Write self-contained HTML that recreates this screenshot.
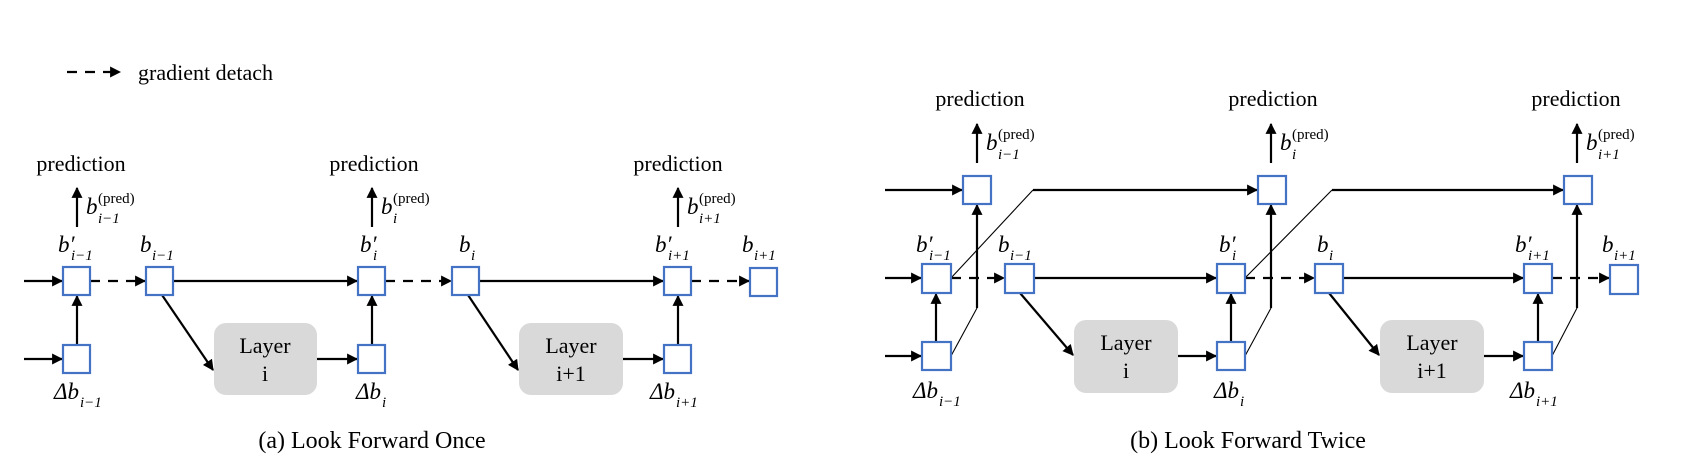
<!DOCTYPE html>
<html><head><meta charset="utf-8"><style>
html,body{margin:0;padding:0;background:#fff;}
svg{display:block;}
text{font-family:"Liberation Serif",serif;fill:#000;}
.m{font-style:italic;font-size:23px;}
.s{font-size:15px;}
.t{font-size:22px;}
.cap{font-size:24px;}
.bx{fill:#fff;stroke:#4472c4;stroke-width:2.2;}
.ln{stroke:#000;stroke-width:2.2;fill:none;}
.th{stroke:#000;stroke-width:1.1;fill:none;}
.ds{stroke:#000;stroke-width:2.2;stroke-dasharray:10 8;fill:none;}
.ly{fill:#d9d9d9;}
</style></head><body>
<svg width="1698" height="466" viewBox="0 0 1698 466" xmlns="http://www.w3.org/2000/svg">
<defs>
<marker id="a" viewBox="0 0 10 10" refX="9" refY="5" markerWidth="5" markerHeight="5" orient="auto-start-reverse"><path d="M0,0 L10,5 L0,10 z" fill="#000"/></marker>
</defs>
<!-- legend -->
<line class="ds" x1="67" y1="72" x2="120" y2="72" marker-end="url(#a)"/>
<text x="138" y="80" class="t">gradient detach</text>

<!-- ===== (a) ===== -->
<g>
<text x="81" y="171" class="t" text-anchor="middle">prediction</text>
<text x="374" y="171" class="t" text-anchor="middle">prediction</text>
<text x="678" y="171" class="t" text-anchor="middle">prediction</text>
<line class="ln" x1="77" y1="227" x2="77" y2="188" marker-end="url(#a)"/>
<line class="ln" x1="372" y1="227" x2="372" y2="188" marker-end="url(#a)"/>
<line class="ln" x1="678" y1="227" x2="678" y2="188" marker-end="url(#a)"/>
<text x="86" y="214" class="m">b</text><text x="98" y="203" class="s">(pred)</text><text x="98" y="223" class="s" font-style="italic">i−1</text>
<text x="381" y="214" class="m">b</text><text x="393" y="203" class="s">(pred)</text><text x="393" y="223" class="s" font-style="italic">i</text>
<text x="687" y="214" class="m">b</text><text x="699" y="203" class="s">(pred)</text><text x="699" y="223" class="s" font-style="italic">i+1</text>

<text x="58" y="252" class="m">b′</text><text x="71" y="260" class="s" font-style="italic">i−1</text>
<text x="140" y="252" class="m">b</text><text x="152" y="260" class="s" font-style="italic">i−1</text>
<text x="360" y="252" class="m">b′</text><text x="373" y="260" class="s" font-style="italic">i</text>
<text x="459" y="252" class="m">b</text><text x="471" y="260" class="s" font-style="italic">i</text>
<text x="655" y="252" class="m">b′</text><text x="668" y="260" class="s" font-style="italic">i+1</text>
<text x="742" y="252" class="m">b</text><text x="754" y="260" class="s" font-style="italic">i+1</text>

<line class="ln" x1="24" y1="281" x2="62" y2="281" marker-end="url(#a)"/>
<line class="ds" x1="90" y1="281" x2="145" y2="281" marker-end="url(#a)"/>
<line class="ln" x1="173" y1="281" x2="357" y2="281" marker-end="url(#a)"/>
<line class="ds" x1="385" y1="281" x2="451" y2="281" marker-end="url(#a)"/>
<line class="ln" x1="479" y1="281" x2="663" y2="281" marker-end="url(#a)"/>
<line class="ds" x1="691" y1="281" x2="749" y2="281" marker-end="url(#a)"/>
<line class="ln" x1="24" y1="359" x2="62" y2="359" marker-end="url(#a)"/>
<line class="ln" x1="317" y1="359" x2="357" y2="359" marker-end="url(#a)"/>
<line class="ln" x1="623" y1="359" x2="663" y2="359" marker-end="url(#a)"/>
<line class="ln" x1="77" y1="345" x2="77" y2="296" marker-end="url(#a)"/>
<line class="ln" x1="372" y1="345" x2="372" y2="296" marker-end="url(#a)"/>
<line class="ln" x1="678" y1="345" x2="678" y2="296" marker-end="url(#a)"/>
<line class="ln" x1="162" y1="295" x2="213" y2="370" marker-end="url(#a)"/>
<line class="ln" x1="468" y1="295" x2="518" y2="370" marker-end="url(#a)"/>
<rect class="ly" x="214" y="323" width="103" height="72" rx="12"/>
<rect class="ly" x="519" y="323" width="104" height="72" rx="12"/>
<text x="265" y="353" class="t" text-anchor="middle">Layer</text><text x="265" y="381" class="t" text-anchor="middle">i</text>
<text x="571" y="353" class="t" text-anchor="middle">Layer</text><text x="571" y="381" class="t" text-anchor="middle">i+1</text>
<rect class="bx" x="63" y="267" width="27" height="28"/>
<rect class="bx" x="146" y="267" width="27" height="28"/>
<rect class="bx" x="358" y="267" width="27" height="28"/>
<rect class="bx" x="452" y="267" width="27" height="28"/>
<rect class="bx" x="664" y="267" width="27" height="28"/>
<rect class="bx" x="750" y="268" width="27" height="28"/>
<rect class="bx" x="63" y="345" width="27" height="28"/>
<rect class="bx" x="358" y="345" width="27" height="28"/>
<rect class="bx" x="664" y="345" width="27" height="28"/>
<text x="54" y="399" class="m">Δb</text><text x="80" y="407" class="s" font-style="italic">i−1</text>
<text x="356" y="399" class="m">Δb</text><text x="382" y="407" class="s" font-style="italic">i</text>
<text x="650" y="399" class="m">Δb</text><text x="676" y="407" class="s" font-style="italic">i+1</text>
<text x="372" y="448" class="cap" text-anchor="middle">(a) Look Forward Once</text>
</g>

<!-- ===== (b) ===== -->
<g>
<text x="980" y="106" class="t" text-anchor="middle">prediction</text>
<text x="1273" y="106" class="t" text-anchor="middle">prediction</text>
<text x="1576" y="106" class="t" text-anchor="middle">prediction</text>
<line class="ln" x1="977" y1="163" x2="977" y2="124" marker-end="url(#a)"/>
<line class="ln" x1="1271" y1="163" x2="1271" y2="124" marker-end="url(#a)"/>
<line class="ln" x1="1577" y1="163" x2="1577" y2="124" marker-end="url(#a)"/>
<text x="986" y="150" class="m">b</text><text x="998" y="139" class="s">(pred)</text><text x="998" y="159" class="s" font-style="italic">i−1</text>
<text x="1280" y="150" class="m">b</text><text x="1292" y="139" class="s">(pred)</text><text x="1292" y="159" class="s" font-style="italic">i</text>
<text x="1586" y="150" class="m">b</text><text x="1598" y="139" class="s">(pred)</text><text x="1598" y="159" class="s" font-style="italic">i+1</text>

<text x="916" y="252" class="m">b′</text><text x="929" y="260" class="s" font-style="italic">i−1</text>
<text x="998" y="252" class="m">b</text><text x="1010" y="260" class="s" font-style="italic">i−1</text>
<text x="1219" y="252" class="m">b′</text><text x="1232" y="260" class="s" font-style="italic">i</text>
<text x="1317" y="252" class="m">b</text><text x="1329" y="260" class="s" font-style="italic">i</text>
<text x="1515" y="252" class="m">b′</text><text x="1528" y="260" class="s" font-style="italic">i+1</text>
<text x="1602" y="252" class="m">b</text><text x="1614" y="260" class="s" font-style="italic">i+1</text>

<line class="ln" x1="885" y1="190" x2="962" y2="190" marker-end="url(#a)"/>
<polyline class="th" points="951,278 1033,190"/>
<line class="ln" x1="1033" y1="190" x2="1257" y2="190" marker-end="url(#a)"/>
<polyline class="th" points="1245,278 1332,190"/>
<line class="ln" x1="1332" y1="190" x2="1563" y2="190" marker-end="url(#a)"/>
<line class="ln" x1="885" y1="278" x2="921" y2="278" marker-end="url(#a)"/>
<line class="ds" x1="951" y1="278" x2="1004" y2="278" marker-end="url(#a)"/>
<line class="ln" x1="1034" y1="278" x2="1216" y2="278" marker-end="url(#a)"/>
<line class="ds" x1="1245" y1="278" x2="1314" y2="278" marker-end="url(#a)"/>
<line class="ln" x1="1343" y1="278" x2="1523" y2="278" marker-end="url(#a)"/>
<line class="ds" x1="1552" y1="278" x2="1609" y2="278" marker-end="url(#a)"/>
<line class="ln" x1="885" y1="356" x2="921" y2="356" marker-end="url(#a)"/>
<line class="ln" x1="1178" y1="356" x2="1216" y2="356" marker-end="url(#a)"/>
<line class="ln" x1="1484" y1="356" x2="1523" y2="356" marker-end="url(#a)"/>
<line class="ln" x1="936" y1="342" x2="936" y2="294" marker-end="url(#a)"/>
<line class="ln" x1="1231" y1="342" x2="1231" y2="294" marker-end="url(#a)"/>
<line class="ln" x1="1538" y1="342" x2="1538" y2="294" marker-end="url(#a)"/>
<polyline class="th" points="951,356 977,308"/>
<line class="ln" x1="977" y1="308" x2="977" y2="205" marker-end="url(#a)"/>
<polyline class="th" points="1245,356 1271,308"/>
<line class="ln" x1="1271" y1="308" x2="1271" y2="205" marker-end="url(#a)"/>
<polyline class="th" points="1552,356 1577,308"/>
<line class="ln" x1="1577" y1="308" x2="1577" y2="205" marker-end="url(#a)"/>
<line class="ln" x1="1020" y1="293" x2="1073" y2="355" marker-end="url(#a)"/>
<line class="ln" x1="1329" y1="293" x2="1379" y2="355" marker-end="url(#a)"/>
<rect class="ly" x="1074" y="320" width="104" height="73" rx="12"/>
<rect class="ly" x="1380" y="320" width="104" height="73" rx="12"/>
<text x="1126" y="350" class="t" text-anchor="middle">Layer</text><text x="1126" y="378" class="t" text-anchor="middle">i</text>
<text x="1432" y="350" class="t" text-anchor="middle">Layer</text><text x="1432" y="378" class="t" text-anchor="middle">i+1</text>
<rect class="bx" x="963" y="176" width="28" height="28"/>
<rect class="bx" x="1258" y="176" width="28" height="28"/>
<rect class="bx" x="1564" y="176" width="28" height="28"/>
<rect class="bx" x="922" y="264" width="29" height="29"/>
<rect class="bx" x="1005" y="264" width="29" height="29"/>
<rect class="bx" x="1217" y="264" width="28" height="29"/>
<rect class="bx" x="1315" y="264" width="28" height="29"/>
<rect class="bx" x="1524" y="264" width="28" height="29"/>
<rect class="bx" x="1610" y="265" width="28" height="29"/>
<rect class="bx" x="922" y="342" width="29" height="28"/>
<rect class="bx" x="1217" y="342" width="28" height="28"/>
<rect class="bx" x="1524" y="342" width="28" height="28"/>
<text x="913" y="398" class="m">Δb</text><text x="939" y="406" class="s" font-style="italic">i−1</text>
<text x="1214" y="398" class="m">Δb</text><text x="1240" y="406" class="s" font-style="italic">i</text>
<text x="1510" y="398" class="m">Δb</text><text x="1536" y="406" class="s" font-style="italic">i+1</text>
<text x="1248" y="448" class="cap" text-anchor="middle">(b) Look Forward Twice</text>
</g>
</svg>
</body></html>
